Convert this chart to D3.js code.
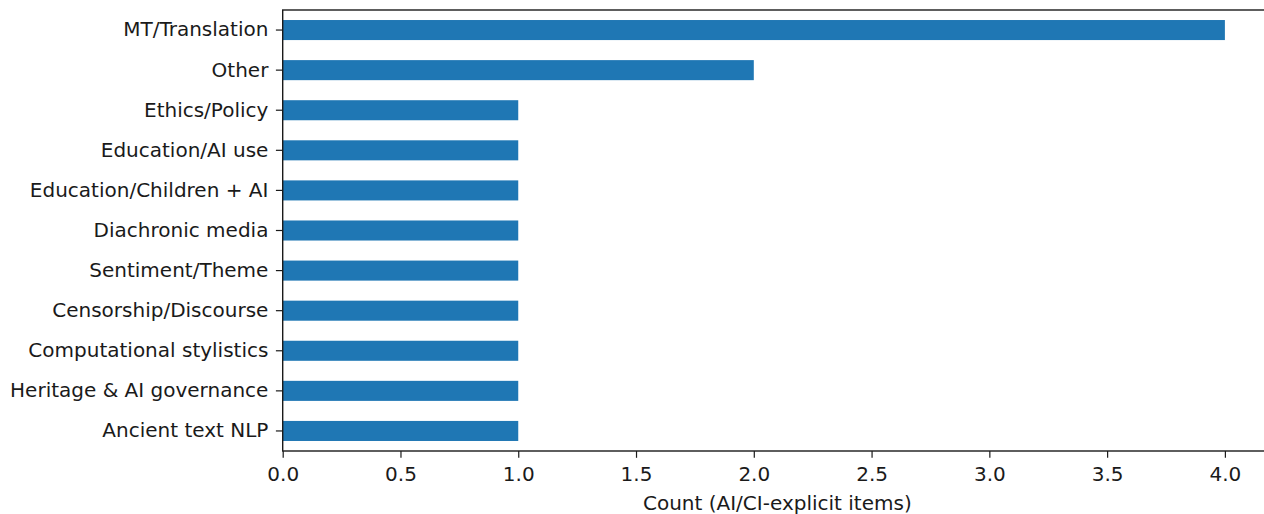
<!DOCTYPE html>
<html>
<head>
<meta charset="utf-8">
<script src="https://cdn.jsdelivr.net/npm/d3@7"></script>
<style>
  html, body { margin: 0; padding: 0; background: #fff; }
  svg { display: block; }
  text { font-family: "DejaVu Sans", sans-serif; fill: #1a1a1a; }
</style>
</head>
<body>
<script>
const categories = [
  "MT/Translation",
  "Other",
  "Ethics/Policy",
  "Education/AI use",
  "Education/Children + AI",
  "Diachronic media",
  "Sentiment/Theme",
  "Censorship/Discourse",
  "Computational stylistics",
  "Heritage & AI governance",
  "Ancient text NLP"
];
const counts = [4, 2, 1, 1, 1, 1, 1, 1, 1, 1, 1];
const xTicks = [0, 0.5, 1, 1.5, 2, 2.5, 3, 3.5, 4];
const xLabel = "Count (AI/CI-explicit items)";

const W = 1264, H = 514;
const mLeft = 282.7, mRight = 1272, mTop = 10, mBottom = 451;
const FS = "20px";

const svg = d3.select("body").append("svg").attr("width", W).attr("height", H);

const x = d3.scaleLinear().domain([0, 4.2]).range([mLeft, mRight]);
const y = d3.scaleBand().domain(categories).range([mTop, mBottom]).paddingInner(0.5).paddingOuter(0.25);

// bars
svg.append("g").selectAll("rect").data(categories).join("rect")
  .attr("x", x(0))
  .attr("y", d => y(d))
  .attr("width", (d, i) => x(counts[i]) - x(0))
  .attr("height", y.bandwidth())
  .attr("fill", "#1f77b4");

// x axis
const xAxis = svg.append("g").attr("transform", `translate(0,${mBottom})`)
  .call(d3.axisBottom(x).tickValues(xTicks).tickFormat(d3.format(".1f")).tickSize(6.8).tickPadding(9));
xAxis.select(".domain").remove();
xAxis.selectAll(".tick line").attr("stroke", "#1a1a1a").attr("stroke-width", 1.2);
xAxis.selectAll(".tick text").style("font-size", FS).style("font-family", "DejaVu Sans").attr("fill", "#1a1a1a");

// y axis
const yAxis = svg.append("g").attr("transform", `translate(${mLeft},0)`)
  .call(d3.axisLeft(y).tickSize(6.8).tickPadding(7.5));
yAxis.select(".domain").remove();
yAxis.selectAll(".tick line").attr("stroke", "#1a1a1a").attr("stroke-width", 1.2);
yAxis.selectAll(".tick text").style("font-size", FS).style("font-family", "DejaVu Sans").attr("fill", "#1a1a1a");

// spines
svg.append("rect")
  .attr("x", mLeft).attr("y", mTop)
  .attr("width", mRight - mLeft).attr("height", mBottom - mTop)
  .attr("fill", "none").attr("stroke", "#1a1a1a").attr("stroke-width", 1.4);

// x label
svg.append("text")
  .attr("x", (mLeft + mRight) / 2).attr("y", 510)
  .attr("text-anchor", "middle")
  .style("font-size", FS)
  .text(xLabel);
</script>
</body>
</html>
